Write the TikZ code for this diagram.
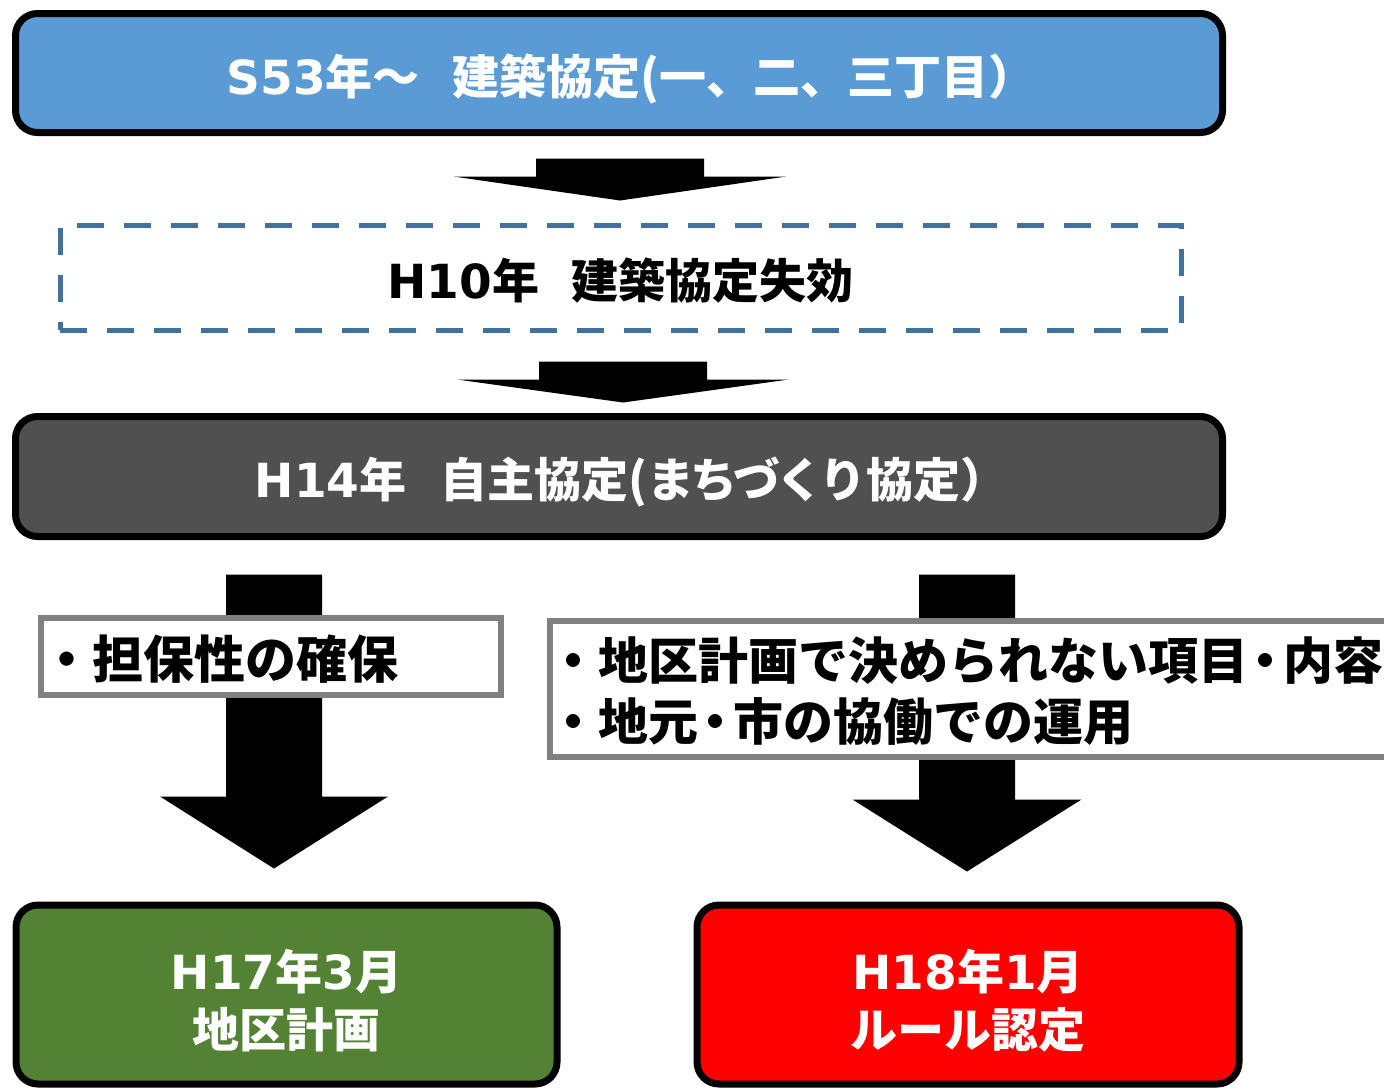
\documentclass[tikz,border=0pt]{standalone}
\usepackage{fontspec}
\newfontfamily\jpfont{Noto Sans CJK JP}
\newfontfamily\latfont{DejaVu Sans}
\usetikzlibrary{calc}
\definecolor{boxblue}{HTML}{5B9BD5}
\definecolor{boxdark}{HTML}{505050}
\definecolor{boxgreen}{HTML}{548235}
\definecolor{boxred}{HTML}{FF0000}
\definecolor{framegray}{HTML}{808080}
\definecolor{dashblue}{HTML}{41719C}
\newcommand{\lat}[1]{{\latfont #1}}
\newcommand{\midbul}{\kern-0.15em・\kern-0.15em}
\newcommand{\kk}{\kern-4pt}
% block arrow: #1 start (top centre), #2 tip, #3 shaft half width, #4 head half width, #5 head length
\newcommand{\blockarr}[5]{%
  \fill[black] let \p1=#1, \p2=#2 in
    (\x1-#3pt,\y1) -- (\x1+#3pt,\y1) -- (\x1+#3pt,\y2+#5pt) -- (\x1+#4pt,\y2+#5pt)
    -- (\x1,\y2) -- (\x1-#4pt,\y2+#5pt) -- (\x1-#3pt,\y2+#5pt) -- cycle;}
\begin{document}
\begin{tikzpicture}[x=1pt,y=1pt,
  roundbox/.style={draw=black, line width=7pt, rounded corners=22pt, inner sep=0pt,
    align=center, text=white},
  bigtext/.style={font=\jpfont\bfseries\fontsize{47}{58}\selectfont},
  oneline/.style={text height=48pt, text depth=6pt},
  graybox/.style={draw=framegray, line width=6pt, fill=white, inner sep=0pt,
    align=left, text=black},
  dashbox/.style={draw=dashblue, line width=5pt, dash pattern=on 27pt off 20pt, inner sep=0pt}]
\useasboundingbox (0,0) rectangle (1384,-1088);
\clip (0,0) rectangle (1384,-1088);

% main boxes
\node[roundbox, bigtext, oneline, fill=boxblue, minimum width=1207, minimum height=119] (s53) at (619,-73)
  {\hspace*{24pt}\lat{S53}年～\kern-14pt　建築協定(一、二、三丁目）};
\node[dashbox, bigtext, oneline, minimum width=1121, minimum height=105] (h10) at (620.5,-277.5)
  {\lat{H10}年\kern-15pt　建築協定失効};
\node[roundbox, bigtext, oneline, fill=boxdark, minimum width=1207, minimum height=120] (h14) at (619,-476.5)
  {\hspace*{24pt}\lat{H14}年\kern-13pt　自主協定(ま\kk ち\kk づ\kk く\kk り協定）};
\node[roundbox, bigtext, fill=boxgreen, minimum width=541, minimum height=179] (h17) at (286.5,-994.5)
  {\rule{0pt}{52pt}\lat{H17}年\lat{3}月\\地区計画};
\node[roundbox, bigtext, fill=boxred, minimum width=542, minimum height=179] (h18) at (968,-994.5)
  {\rule{0pt}{52pt}\lat{H18}年\lat{1}月\\ルール認定};

% arrow anchor points
\coordinate (a1s) at ($(s53.south)+(1,-22.5)$);
\coordinate (a1e) at ($(h10.north)+(0,22)$);
\coordinate (a2s) at ($(h10.south)+(2.5,-29)$);
\coordinate (a2e) at ($(h14.north)+(4,10.5)$);
\coordinate (a3s) at ($(h14.south)+(-345,-34.5)$);
\coordinate (a3e) at ($(h17.north)+(-12.5,33)$);
\coordinate (a4s) at ($(h14.south)+(348,-34.5)$);
\coordinate (a4e) at ($(h18.north)+(-1,30)$);

\blockarr{(a1s)}{(a1e)}{84}{166.5}{24}
\blockarr{(a2s)}{(a2e)}{84}{166}{23}
\blockarr{(a3s)}{(a3e)}{48}{114}{72}
\blockarr{(a4s)}{(a4e)}{48}{114.5}{72}

% note boxes over the arrow shafts
\node[graybox, font=\jpfont\bfseries\fontsize{51}{61}\selectfont, text height=51pt, text depth=6pt,
  minimum height=77.5, text width=460] (note1) at (271,-656.25)
  {・担保性の確保};
\node[graybox, font=\jpfont\bfseries\fontsize{50}{61}\selectfont,
  anchor=north west, minimum height=136, text width=900] (note2) at (547,-617.5)
  {\rule{0pt}{49pt}\hspace*{-2pt}・地区計画で決められない項目\midbul 内容\\\hspace*{-2pt}・地元\midbul 市の協働での運用};
\end{tikzpicture}
\end{document}
